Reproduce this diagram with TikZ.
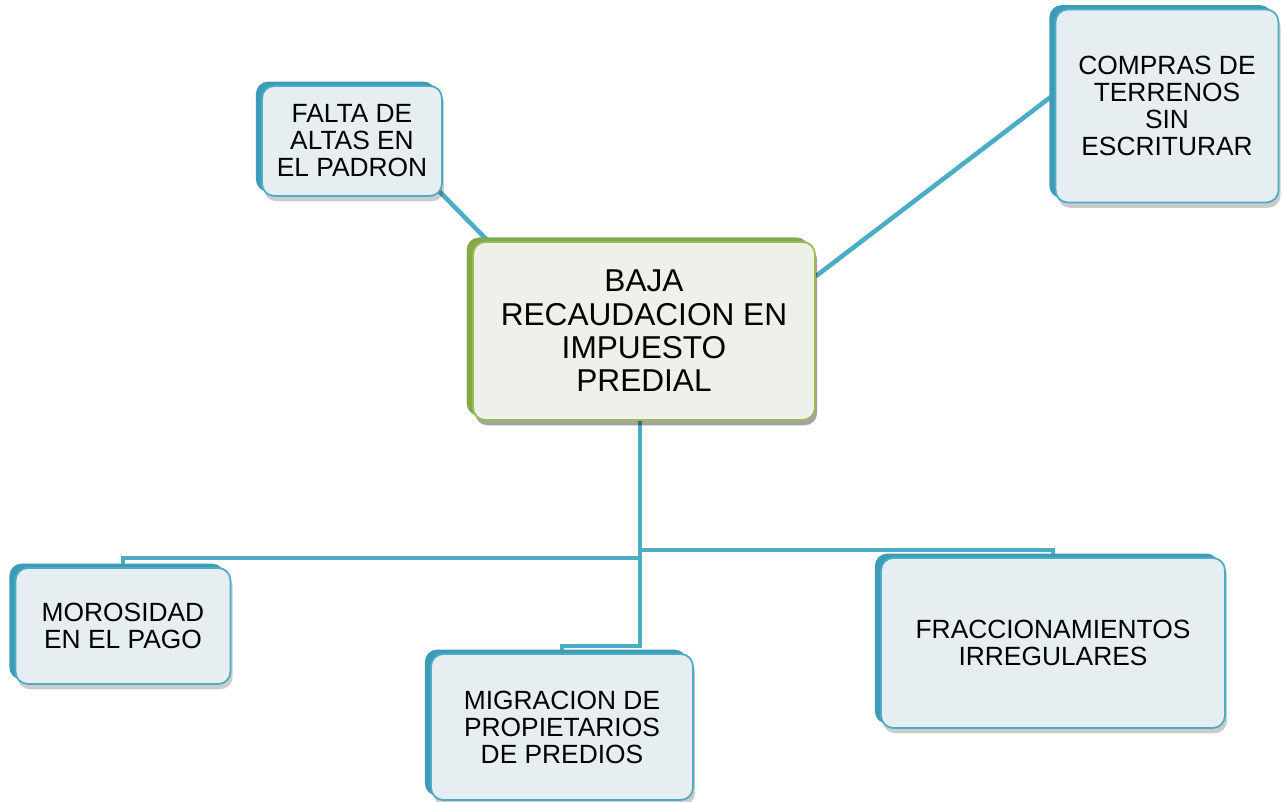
\documentclass[tikz,border=0pt]{standalone}
\usepackage{fontspec}
\setmainfont{Liberation Sans}
\usetikzlibrary{shadows,calc}
\pgfdeclarelayer{background}
\pgfsetlayers{background,main}
\definecolor{linkblue}{HTML}{4BACC6}
\definecolor{edgeblue}{HTML}{3E9BB8}
\definecolor{faceblue}{HTML}{E7EEF2}
\definecolor{edgegreen}{HTML}{9BBB59}
\definecolor{darkgreen}{HTML}{86A844}
\definecolor{facegreen}{HTML}{EEF0EA}
\begin{document}
\begin{tikzpicture}[x=0.02cm, y=-0.02cm]
  \tikzstyle{box}=[rectangle, rounded corners=7pt, draw=linkblue, line width=1pt, fill=faceblue,
    align=center, inner sep=2pt, font=\fontsize{15}{15.4}\selectfont,
    general shadow={fill=black, opacity=0.2, shadow xshift=1.2pt, shadow yshift=-3pt},
    general shadow={fill=edgeblue, shadow xshift=-3.5pt, shadow yshift=2.5pt}]
  \tikzstyle{root}=[draw=edgegreen, fill=facegreen, font=\fontsize{18}{19}\selectfont,
    general shadow={fill=black, opacity=0.2, shadow xshift=1.2pt, shadow yshift=-3pt},
    general shadow={fill=darkgreen, shadow xshift=-3.5pt, shadow yshift=2.5pt}]
  \tikzstyle{link}=[draw=linkblue, line width=2.6pt]

  \useasboundingbox (0,0) rectangle (1287,801);

  \node[box, minimum width=3.6cm, minimum height=2.2cm] (falta) at (352,141)
    {FALTA DE\\ALTAS EN\\EL PADRON};
  \node[box, minimum width=4.46cm, minimum height=3.86cm] (compras) at (1167,106)
    {COMPRAS DE\\TERRENOS\\SIN\\ESCRITURAR};
  \node[box, root, minimum width=6.84cm, minimum height=3.56cm] (baja) at (644,331)
    {BAJA\\RECAUDACION EN\\IMPUESTO\\PREDIAL};
  \node[box, minimum width=4.3cm, minimum height=2.32cm] (morosidad) at (123,626)
    {MOROSIDAD\\EN EL PAGO};
  \node[box, minimum width=5.24cm, minimum height=2.92cm] (migracion) at (562,727)
    {MIGRACION DE\\PROPIETARIOS\\DE PREDIOS};
  \node[box, minimum width=6.88cm, minimum height=3.4cm] (fracc) at (1053,643)
    {FRACCIONAMIENTOS\\IRREGULARES};

  \begin{pgfonlayer}{background}
    \draw[link] ($(falta.south east)+(-6,-8)$) -- ($(baja.north west)+(16,0)$);
    \draw[link] ($(compras.west)+(0,-12)$) -- ($(baja.north east)+(0,35)$);
    \draw[link] ($(baja.south)+(-4,0)$) -- ++(0,225) -| (migracion.north);
    \draw[link] ($(baja.south)+(-4,137)$) -| (morosidad.north);
    \draw[link] ($(baja.south)+(-4,129)$) -| (fracc.north);
  \end{pgfonlayer}
\end{tikzpicture}
\end{document}
